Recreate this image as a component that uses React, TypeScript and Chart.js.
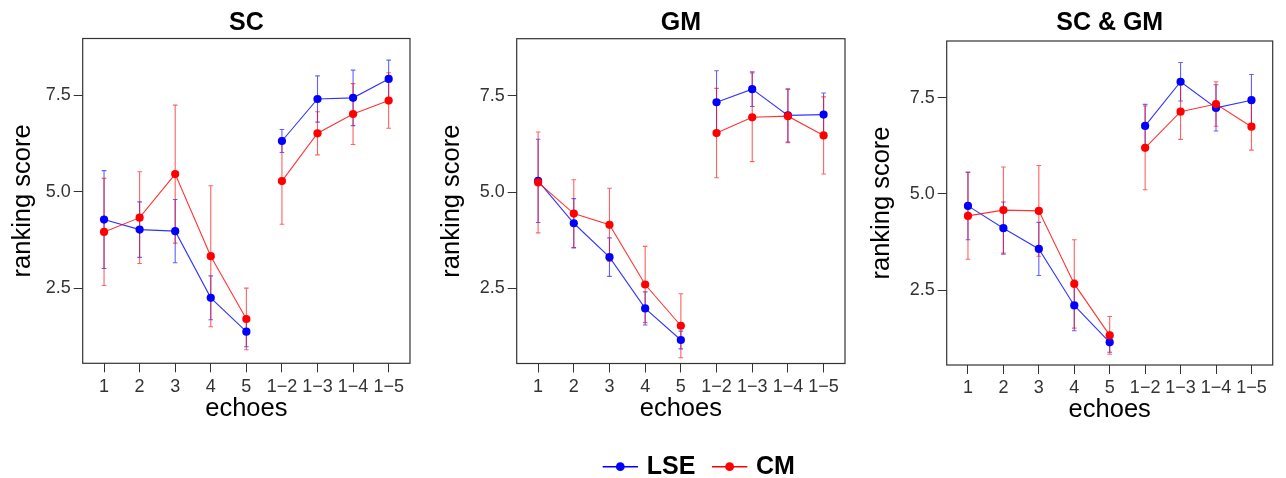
import React, { useEffect, useRef } from "react";
import { Chart, registerables } from "chart.js";

Chart.register(...registerables);

// ---------------- data ----------------
const categories = ["1", "2", "3", "4", "5", "1\u22122", "1\u22123", "1\u22124", "1\u22125"];
const yTickValues = [2.5, 5.0, 7.5];
const panelTitles = ["SC", "GM", "SC & GM"];
const seriesNames = ["LSE", "CM"];
const seriesColors = ["#0000FF", "#FF0000"];

// SC
const scLse = [4.28, 4.02, 3.98, 2.25, 1.37, 6.32, 7.41, 7.44, 7.93];
const scLseErr = [1.27, 0.72, 0.82, 0.57, 0.39, 0.3, 0.6, 0.72, 0.49];
const scCm = [3.96, 4.33, 5.46, 3.33, 1.7, 5.28, 6.52, 7.02, 7.37];
const scCmErr = [1.39, 1.19, 1.79, 1.83, 0.8, 1.12, 0.56, 0.79, 0.72];

// GM
const gmLse = [5.29, 4.19, 3.31, 1.98, 1.16, 7.33, 7.67, 6.99, 7.01];
const gmLseErr = [1.08, 0.64, 0.5, 0.43, 0.23, 0.82, 0.45, 0.69, 0.56];
const gmCm = [5.25, 4.44, 4.15, 2.6, 1.53, 6.53, 6.94, 6.97, 6.47];
const gmCmErr = [1.31, 0.88, 0.95, 0.99, 0.83, 1.16, 1.15, 0.69, 1.0];

// SC & GM
const bothLse = [4.69, 4.11, 3.57, 2.1, 1.14, 6.77, 7.92, 7.24, 7.44];
const bothLseErr = [0.88, 0.68, 0.69, 0.66, 0.26, 0.56, 0.5, 0.6, 0.67];
const bothCm = [4.43, 4.58, 4.56, 2.66, 1.32, 6.2, 7.14, 7.34, 6.75];
const bothCmErr = [1.13, 1.12, 1.18, 1.15, 0.49, 1.09, 0.72, 0.58, 0.61];

const panelSeries = [
  [[scLse, scLseErr], [scCm, scCmErr]],
  [[gmLse, gmLseErr], [gmCm, gmCmErr]],
  [[bothLse, bothLseErr], [bothCm, bothCmErr]],
];

const groupBreakAfter = 4; // no line between "5" and "1−2"

// ---------------- layout ----------------
const FONT = "'Liberation Sans', Arial, Helvetica, sans-serif";
const H = 478;
const layouts = [
  { canvasLeft: 0, width: 430, L: 82.7, R: 410, T: 38.5, B: 363.3, yMid: 23 },
  { canvasLeft: 430, width: 430, L: 86.7, R: 415, T: 38.7, B: 363.5, yMid: 22 },
  { canvasLeft: 860, width: 426, L: 86.7, R: 412.7, T: 41, B: 365, yMid: 22 },
];

const rgba = (hex: string, a: number) => {
  const r = parseInt(hex.slice(1, 3), 16);
  const g = parseInt(hex.slice(3, 5), 16);
  const b = parseInt(hex.slice(5, 7), 16);
  return `rgba(${r},${g},${b},${a})`;
};

const errorBarPlugin = {
  id: "errorBars",
  beforeDatasetsDraw(chart: any) {
    const ctx = chart.ctx;
    const xs = chart.scales.x;
    const ys = chart.scales.y;
    chart.data.datasets.forEach((ds: any) => {
      ctx.save();
      ctx.strokeStyle = ds.errorColor;
      ctx.lineWidth = 1.1;
      ds.data.forEach((p: any, i: number) => {
        const e = ds.errors[i];
        const px = xs.getPixelForValue(p.x);
        const top = ys.getPixelForValue(p.y + e);
        const bot = ys.getPixelForValue(p.y - e);
        const cap = 2.3;
        ctx.beginPath();
        ctx.moveTo(px, top);
        ctx.lineTo(px, bot);
        ctx.moveTo(px - cap, top);
        ctx.lineTo(px + cap, top);
        ctx.moveTo(px - cap, bot);
        ctx.lineTo(px + cap, bot);
        ctx.stroke();
      });
      ctx.restore();
    });
  },
};

const boxPlugin = {
  id: "panelBox",
  afterDraw(chart: any) {
    const { left, top, right, bottom } = chart.chartArea;
    const ctx = chart.ctx;
    ctx.save();
    ctx.strokeStyle = "#333333";
    ctx.lineWidth = 1.2;
    ctx.strokeRect(left, top, right - left, bottom - top);
    ctx.restore();
  },
};

const legendPlugin = {
  id: "bottomLegend",
  afterDraw(chart: any) {
    const ctx = chart.ctx;
    const y = 466.7;
    let x = 172.7;
    ctx.save();
    ctx.font = `bold 25px ${FONT}`;
    ctx.textBaseline = "middle";
    ctx.textAlign = "left";
    const items = chart.data.datasets
      .map((ds: any) => ({ label: ds.label, color: ds.pointBackgroundColor, idx: ds.legendIndex }))
      .sort((a: any, b: any) => a.idx - b.idx);
    items.forEach((it: any) => {
      ctx.strokeStyle = it.color;
      ctx.lineWidth = 1.6;
      ctx.beginPath();
      ctx.moveTo(x, y);
      ctx.lineTo(x + 35.3, y);
      ctx.stroke();
      ctx.fillStyle = it.color;
      ctx.beginPath();
      ctx.arc(x + 17.6, y, 4.4, 0, Math.PI * 2);
      ctx.fill();
      ctx.fillStyle = "#000";
      ctx.fillText(it.label, x + 44, y);
      x += 44 + ctx.measureText(it.label).width + 16.7;
    });
    ctx.restore();
  },
};

function Panel({ idx }: { idx: number }) {
  const ref = useRef<HTMLCanvasElement | null>(null);
  const lay = layouts[idx];
  useEffect(() => {
    Chart.defaults.font.family = FONT;
    const series = panelSeries[idx];
    const datasets = series.map(([vals, errs], s) => ({
      label: seriesNames[s],
      legendIndex: s,
      order: series.length - s,
      data: vals.map((v: number, i: number) => ({ x: i + 1, y: v })),
      errors: errs,
      errorColor: rgba(seriesColors[s], 0.62),
      borderColor: rgba(seriesColors[s], 0.8),
      borderWidth: 1.1,
      pointBackgroundColor: seriesColors[s],
      pointBorderColor: seriesColors[s],
      pointBorderWidth: 0,
      pointRadius: 4.1,
      pointHoverRadius: 4.1,
      tension: 0,
      fill: false,
      segment: {
        borderColor: (c: any) => (c.p0DataIndex === groupBreakAfter ? "rgba(0,0,0,0)" : undefined),
      },
    }));
    const tickFont = { size: 18, family: FONT };
    const plugins: any[] = [errorBarPlugin, boxPlugin];
    if (idx === 1) plugins.push(legendPlugin);
    const chart = new Chart(ref.current as HTMLCanvasElement, {
      type: "line",
      data: { datasets } as any,
      options: {
        responsive: false,
        animation: false,
        devicePixelRatio: 1,
        events: [],
        layout: {
          padding: { left: 0, right: lay.width - lay.R, top: 0, bottom: H - lay.B - 60.5 },
        },
        plugins: {
          legend: { display: false },
          tooltip: { enabled: false },
          title: {
            display: true,
            text: panelTitles[idx],
            fullSize: false,
            color: "#000",
            font: { size: 25, weight: "bold", family: FONT, lineHeight: 1.2 },
            padding: { top: 8.5, bottom: lay.T - 38.5 },
          },
        },
        scales: {
          x: {
            type: "linear",
            min: 0.4,
            max: 9.6,
            afterBuildTicks: (s: any) => {
              s.ticks = categories.map((_, i) => ({ value: i + 1 }));
            },
            afterFit: (s: any) => {
              s.height = 60.5;
            },
            ticks: {
              autoSkip: false,
              maxRotation: 0,
              minRotation: 0,
              padding: 3.5,
              color: "#333333",
              font: tickFont,
              callback: (v: any) => categories[Math.round(v) - 1] ?? "",
            },
            grid: {
              display: true,
              drawOnChartArea: false,
              drawTicks: true,
              tickLength: 9,
              tickColor: "#333333",
              tickWidth: 1,
            },
            border: { display: false },
            title: {
              display: true,
              text: "echoes",
              color: "#000",
              font: { size: 25.5, family: FONT, lineHeight: 1.2 },
              padding: { top: 0, bottom: 0 },
            },
          },
          y: {
            type: "linear",
            min: 0.55,
            max: 8.98,
            afterBuildTicks: (s: any) => {
              s.ticks = yTickValues.map((v) => ({ value: v }));
            },
            afterFit: (s: any) => {
              s.width = lay.L;
            },
            ticks: {
              padding: 3,
              color: "#333333",
              font: tickFont,
              callback: (v: any) => Number(v).toFixed(1),
            },
            grid: {
              display: true,
              drawOnChartArea: false,
              drawTicks: true,
              tickLength: 9,
              tickColor: "#333333",
              tickWidth: 1,
            },
            border: { display: false },
            title: {
              display: true,
              text: "ranking score",
              color: "#000",
              font: { size: 25.5, family: FONT, lineHeight: 1.2 },
              padding: { top: lay.yMid - 15.3, bottom: 0 },
            },
          },
        },
      } as any,
      plugins,
    });
    return () => chart.destroy();
  }, [idx]);
  return (
    <canvas
      ref={ref}
      width={lay.width}
      height={H}
      style={{ position: "absolute", left: lay.canvasLeft, top: 0, width: lay.width, height: H, display: "block" }}
    />
  );
}

export default function App() {
  return (
    <div style={{ position: "absolute", left: 0, top: 0, width: 1286, height: H, background: "#fff" }}>
      <Panel idx={0} />
      <Panel idx={1} />
      <Panel idx={2} />
    </div>
  );
}
